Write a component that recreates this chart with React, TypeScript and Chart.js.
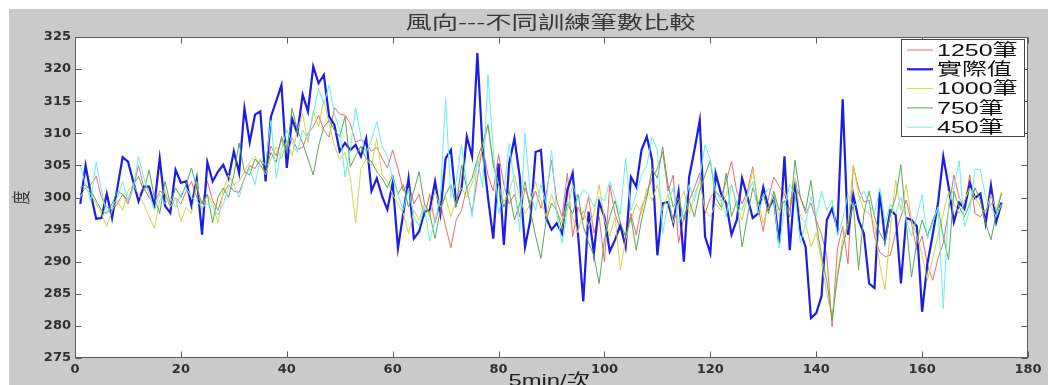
import React, { useEffect, useRef } from "react";
import { Chart, registerables } from "chart.js";

Chart.register(...registerables);

const TITLE = "風向---不同訓練筆數比較";
const X_LABEL = "5min/次";
const Y_LABEL = "度";
const X_MIN = 0;
const X_MAX = 180;
const X_STEP = 20;
const Y_MIN = 275;
const Y_MAX = 325;
const Y_STEP = 5;

const SERIES_NAMES = ["1250筆", "實際值", "1000筆", "750筆", "450筆"];
const SERIES_COLORS = ["#ee6b6b", "#1c1ce4", "#d4d44c", "#58a858", "#66f0f0"];
const SERIES_WIDTHS = [1, 2.2, 1, 1, 1];

const pred1250 = [
  300.5, 301.5, 302.0, 303.3, 300.0, 298.5, 298.0, 299.0, 300.5, 299.0,
  301.5, 305.0, 301.5, 300.0, 299.0, 301.0, 300.5, 298.5, 300.0, 299.0,
  301.0, 302.5, 300.0, 299.0, 302.5, 299.5, 298.0, 300.5, 302.0, 301.0,
  300.8, 303.0, 305.0, 304.5, 306.0, 304.0, 308.0, 306.5, 309.0, 307.0,
  309.3, 307.5, 307.8, 310.0, 311.0, 312.8, 310.5, 309.4, 314.0, 313.0,
  312.8, 311.5, 308.6, 309.0, 308.5, 307.2, 307.8, 306.1, 304.6, 307.4,
  304.5, 301.0, 302.5, 299.0, 300.5, 297.0, 300.5, 296.0, 299.0, 295.5,
  292.2, 296.5, 298.0, 301.5, 297.5, 303.0, 308.0, 303.5, 301.0, 306.7,
  302.0, 299.0, 300.5, 297.0, 301.5, 299.0, 301.0, 298.3, 300.5, 305.8,
  299.5, 297.0, 303.8, 293.9, 298.5, 296.5, 300.1, 294.5, 297.0, 290.0,
  302.0, 297.5, 295.0, 294.0, 297.5, 294.2, 298.5, 300.5, 303.0, 304.5,
  307.1, 301.0, 303.5, 292.9, 297.0, 299.5, 301.5, 303.8, 297.5, 300.0,
  301.0, 300.0, 302.5, 305.6, 300.9, 299.0, 301.0, 304.8, 298.5, 294.7,
  300.0, 303.2, 301.7, 300.5, 298.0, 302.0, 300.1, 297.5, 299.1, 296.5,
  294.2, 291.0, 279.9, 292.0, 295.5, 289.7, 304.8, 301.5, 299.3, 299.6,
  294.0, 291.5, 290.8, 291.0, 294.5, 297.0, 299.6, 296.0, 291.8, 294.0,
  289.5, 287.1, 290.5, 292.9, 298.0, 303.5, 300.0, 298.5, 303.5, 297.5,
  297.0, 298.0, 299.1, 298.0, 299.3,
];

const actual = [
  299.0, 305.0, 300.5, 296.7, 296.8, 300.6, 296.8, 301.5, 306.3, 305.6,
  302.5, 299.4, 301.7, 301.7, 298.9, 306.1, 298.7, 297.6, 304.3, 302.3,
  302.5, 298.7, 302.9, 294.2, 305.5, 302.5, 304.0, 305.1, 303.0, 307.2,
  303.8, 313.9, 308.6, 312.9, 313.4, 302.5, 312.6, 315.0, 317.5, 304.6,
  312.3, 310.0, 316.0, 313.4, 320.4, 317.8, 319.1, 312.6, 311.3, 307.2,
  308.5, 307.4, 308.2, 306.4, 309.2, 301.0, 303.0, 300.2, 298.1, 302.3,
  292.1, 297.5, 303.0, 293.6, 294.7, 297.8, 298.0, 302.5, 297.5, 306.1,
  307.4, 299.1, 301.4, 309.5, 306.4, 322.5, 307.4, 300.0, 293.6, 305.3,
  292.6, 305.3, 309.2, 303.2, 292.3, 296.5, 307.1, 307.4, 296.8, 295.0,
  296.0, 294.4, 301.2, 303.8, 294.4, 283.8, 297.8, 291.3, 299.3, 297.0,
  291.6, 293.4, 295.7, 292.3, 303.2, 301.7, 307.4, 309.5, 305.8, 291.0,
  299.1, 299.3, 296.0, 300.9, 290.0, 303.2, 307.4, 312.0, 293.9, 291.3,
  303.8, 300.6, 299.1, 294.2, 296.5, 303.0, 300.1, 296.8, 297.5, 301.6,
  298.3, 299.9, 292.9, 306.4, 291.8, 302.5, 294.7, 292.3, 281.2, 282.0,
  284.6, 296.5, 298.3, 295.2, 315.3, 294.2, 300.4, 296.5, 294.4, 286.6,
  285.9, 300.9, 293.4, 298.0, 297.3, 286.6, 296.8, 296.5, 295.5, 282.2,
  289.7, 294.2, 299.1, 306.4, 301.7, 296.2, 299.2, 298.2, 302.2, 299.9,
  300.6, 296.0, 301.9, 296.2, 299.2,
];

const pred1000 = [
  300.0, 301.5, 300.5, 299.0, 297.5, 295.5, 298.0, 299.5, 298.0, 301.0,
  302.0, 300.5, 299.0, 297.0, 295.2, 299.5, 301.0, 298.5, 300.0, 296.3,
  298.5, 297.5, 302.5, 298.0, 300.5, 299.0, 296.0, 301.0, 303.5, 302.0,
  302.5, 304.0, 305.5, 306.4, 305.0, 303.5, 306.0, 307.9, 306.0, 309.0,
  306.5, 310.5, 313.1, 308.5, 313.6, 311.0, 315.2, 311.5, 308.0, 305.9,
  307.0, 303.0, 296.0, 304.5, 306.0, 305.0, 309.2, 303.5, 302.5, 300.5,
  299.0, 297.5, 294.4, 298.0, 296.5, 299.0, 297.0, 301.0, 298.5, 300.1,
  297.0, 299.5, 301.5, 300.0, 302.2, 305.0, 307.5, 311.3, 305.5, 302.0,
  299.3, 301.0, 303.5, 300.0, 297.5, 299.0, 302.5, 299.5, 297.0, 300.5,
  298.0, 296.0, 299.5, 297.0, 294.5, 298.0, 295.5, 297.5, 302.0, 296.5,
  294.0, 297.0, 288.7, 293.4, 296.5, 299.0, 297.5, 301.5, 299.5, 302.0,
  298.0, 300.5, 296.0, 299.0, 301.0, 297.5, 300.5, 302.5, 298.0, 297.0,
  299.0, 298.0, 300.5, 302.0, 298.5, 296.5, 300.0, 304.3, 299.5, 296.0,
  298.5, 300.5, 297.0, 301.0, 299.0, 303.0, 297.0, 296.0, 292.3, 294.5,
  290.0, 285.0, 281.5, 288.0, 293.5, 296.0, 305.1, 300.5, 298.0, 297.5,
  296.0, 289.5, 285.6, 295.0, 302.7, 298.0, 302.0, 296.5, 294.0, 291.0,
  287.1, 290.5, 294.0, 297.5, 301.0, 299.0, 297.5, 299.5, 301.5, 300.0,
  298.5, 297.5, 300.5, 298.0, 300.9,
];

const pred750 = [
  301.5, 302.0, 301.0, 299.5, 298.0, 297.5, 299.0, 301.0, 300.5, 299.5,
  302.0, 303.3, 301.0, 304.3, 300.0, 297.5, 302.5, 299.0, 301.5, 300.0,
  302.0, 304.6, 301.5, 299.0, 300.5, 296.1, 300.0, 301.5, 300.0, 303.5,
  308.5, 304.0, 303.5, 306.0, 305.0, 304.0, 307.0, 305.5, 309.5, 307.0,
  313.9, 310.5, 308.5, 306.0, 303.5, 308.0, 311.0, 312.0, 310.5, 309.5,
  312.6, 304.8, 306.5, 308.0, 306.0, 305.6, 304.0, 303.0, 301.5, 303.5,
  300.5, 302.0, 298.5, 301.0, 304.0, 299.0, 297.5, 293.6, 298.0, 300.5,
  302.0, 298.5, 305.0, 301.5, 303.0, 306.0, 308.5, 311.4, 305.0, 302.0,
  298.5, 301.0, 296.5, 299.0, 302.5, 298.0, 294.0, 290.5, 296.5, 299.1,
  298.0, 295.0, 299.0, 297.5, 300.5, 295.5, 293.0, 291.0, 286.6, 293.5,
  297.0, 299.5, 296.0, 294.0, 297.0, 291.8, 296.5, 300.0, 304.5, 303.0,
  307.9, 302.0, 298.5, 300.0, 296.5, 299.5, 297.0, 301.0, 303.5, 305.8,
  300.0, 298.5, 303.8, 297.0, 299.5, 292.3, 297.0, 301.5, 299.0, 300.5,
  297.5, 301.0, 298.0, 299.5, 297.0, 305.8, 300.0, 298.0, 302.7, 296.0,
  291.0, 287.0, 280.9, 287.5, 292.5, 295.5, 299.0, 288.7, 297.5, 301.0,
  297.0, 294.5, 293.0, 297.5, 300.0, 305.1, 296.0, 287.6, 293.0, 296.5,
  294.0, 296.5, 298.5, 294.0, 290.3, 301.0, 298.5, 297.0, 299.0, 301.5,
  299.5, 296.0, 293.4, 297.5, 300.6,
];

const pred450 = [
  305.0, 302.0, 299.5, 305.6, 301.0, 297.5, 298.5, 300.0, 302.5, 299.5,
  301.5, 306.4, 303.0, 300.5, 298.0, 300.5, 299.0, 300.0, 298.5, 300.5,
  301.5, 300.0, 299.5, 298.5, 299.0, 298.5, 297.3, 299.0, 301.5, 302.0,
  300.0, 303.0, 304.5, 302.0, 306.0, 305.0, 312.0, 303.0, 307.5, 310.5,
  308.5, 307.0, 310.5, 309.0, 313.0, 317.0, 314.5, 317.5, 313.0, 310.5,
  303.2, 307.5, 314.0, 309.5, 307.0, 309.0, 311.8, 308.0, 306.4, 303.0,
  300.5, 298.0, 301.5, 297.0, 295.5, 298.5, 293.2, 296.5, 300.0, 315.4,
  300.0, 302.5, 308.2, 302.0, 297.0, 306.0, 301.5, 319.1, 307.5, 297.5,
  301.0, 308.4, 302.0, 294.7, 310.0, 300.5, 298.0, 302.0, 299.0, 307.4,
  297.5, 292.9, 298.0, 302.0, 299.5, 301.2, 300.5, 298.5, 300.1, 299.5,
  302.5, 300.0, 297.3, 306.1, 298.0, 300.5, 303.5, 305.0, 309.4, 307.4,
  294.4, 299.0, 301.5, 296.0, 298.1, 302.0, 299.5, 303.0, 308.2, 305.8,
  301.0, 299.5, 297.0, 302.0, 299.0, 298.0, 300.5, 302.5, 297.5, 300.0,
  301.5, 299.5, 292.1, 298.5, 302.0, 300.5, 292.9, 296.0, 300.1, 297.0,
  301.0, 298.0, 299.6, 294.0, 296.5, 300.5, 298.5, 299.5, 301.0, 299.0,
  297.5, 301.5, 296.0, 299.0, 297.5, 300.0, 296.5, 294.0, 297.0, 300.4,
  293.5, 296.0, 298.5, 282.7, 299.0, 301.5, 305.7, 295.4, 298.0, 304.4,
  304.4, 300.0, 298.5, 297.0, 299.0,
];

const SERIES = [pred1250, actual, pred1000, pred750, pred450];

const CANVAS_W = 1039;
const CANVAS_H = 376;

const matlabPlugin = {
  id: "matlabLook",
  beforeDraw(chart: any) {
    const { ctx, chartArea: a } = chart;
    ctx.save();
    ctx.fillStyle = "#cacaca";
    ctx.fillRect(0, 0, chart.width, chart.height);
    ctx.fillStyle = "#ffffff";
    ctx.fillRect(a.left, a.top, a.right - a.left, a.bottom - a.top);
    ctx.restore();
  },
  afterDatasetsDraw(chart: any) {
    const { ctx, chartArea: a, scales } = chart;
    ctx.save();
    ctx.strokeStyle = "#5c5c5c";
    ctx.lineWidth = 1;
    const L = Math.round(a.left) + 0.5;
    const R = Math.round(a.right) - 0.5;
    const T = Math.round(a.top) + 0.5;
    const B = Math.round(a.bottom) - 0.5;
    ctx.strokeRect(L, T, R - L, B - T);
    const tl = 6;
    ctx.beginPath();
    scales.x.ticks.forEach((t: any) => {
      const px = Math.round(scales.x.getPixelForValue(t.value)) + 0.5;
      ctx.moveTo(px, B);
      ctx.lineTo(px, B - tl);
      ctx.moveTo(px, T);
      ctx.lineTo(px, T + tl);
    });
    scales.y.ticks.forEach((t: any) => {
      const py = Math.round(scales.y.getPixelForValue(t.value)) + 0.5;
      ctx.moveTo(L, py);
      ctx.lineTo(L + tl, py);
      ctx.moveTo(R, py);
      ctx.lineTo(R - tl, py);
    });
    ctx.stroke();

    // legend
    const lx = 892;
    const ly = 30;
    const lw = 124;
    const lh = 98;
    ctx.fillStyle = "#ffffff";
    ctx.fillRect(lx, ly, lw, lh);
    ctx.strokeStyle = "#444444";
    ctx.strokeRect(lx + 0.5, ly + 0.5, lw - 1, lh - 1);
    SERIES_NAMES.forEach((name, i) => {
      const cy = ly + 11 + i * 19.3;
      ctx.strokeStyle = SERIES_COLORS[i];
      ctx.lineWidth = SERIES_WIDTHS[i];
      ctx.beginPath();
      ctx.moveTo(lx + 6, cy);
      ctx.lineTo(lx + 32, cy);
      ctx.stroke();
      ctx.save();
      ctx.translate(lx + 36, cy);
      ctx.scale(1.47, 1);
      ctx.fillStyle = "#111111";
      ctx.font = '17px "Liberation Sans", "Noto Sans CJK TC"';
      ctx.textAlign = "left";
      ctx.textBaseline = "middle";
      ctx.fillText(name, 0, 1);
      ctx.restore();
    });
    ctx.restore();
  },
  afterDraw(chart: any) {
    const { ctx, chartArea: a } = chart;
    const cx = (a.left + a.right) / 2;
    ctx.save();
    ctx.fillStyle = "#383838";
    ctx.textAlign = "center";
    // title
    ctx.save();
    ctx.translate(cx - 1, 13);
    ctx.scale(1.46, 1);
    ctx.font = '18px "Noto Sans CJK TC"';
    ctx.textBaseline = "middle";
    ctx.fillText(TITLE, 0, 0);
    ctx.restore();
    // x label
    ctx.save();
    ctx.translate(cx - 2, 377);
    ctx.scale(1.4, 1);
    ctx.fillStyle = "#1e1e1e";
    ctx.font = '17px "Liberation Sans", "Noto Sans CJK TC"';
    ctx.textBaseline = "alphabetic";
    ctx.fillText(X_LABEL, 0, 0);
    ctx.restore();
    // y label
    ctx.save();
    ctx.translate(12, (a.top + a.bottom) / 2);
    ctx.rotate(-Math.PI / 2);
    ctx.scale(1, 1.3);
    ctx.font = '14px "Noto Sans CJK TC"';
    ctx.textBaseline = "middle";
    ctx.fillText(Y_LABEL, 0, 0);
    ctx.restore();
    ctx.restore();
  },
};

export default function App() {
  const canvasRef = useRef<HTMLCanvasElement | null>(null);

  useEffect(() => {
    const canvas = canvasRef.current;
    if (!canvas) return;
    const tickFont = { family: '"DejaVu Sans"', size: 13, weight: "bold" as const };
    const chart = new Chart(canvas, {
      type: "line",
      data: {
        datasets: SERIES.map((vals, si) => ({
          label: SERIES_NAMES[si],
          data: vals.map((v, k) => ({ x: k + 1, y: v })),
          borderColor: SERIES_COLORS[si],
          backgroundColor: SERIES_COLORS[si],
          borderWidth: SERIES_WIDTHS[si],
          pointRadius: 0,
          tension: 0,
          fill: false,
          order: SERIES.length - si,
        })),
      },
      options: {
        animation: false,
        responsive: false,
        devicePixelRatio: 1,
        events: [],
        layout: { padding: { top: 28, right: 20, left: 0, bottom: 0 } },
        plugins: {
          legend: { display: false },
          title: { display: false },
          tooltip: { enabled: false },
        },
        scales: {
          x: {
            type: "linear",
            min: X_MIN,
            max: X_MAX,
            grid: { display: false, drawTicks: false },
            border: { display: false },
            ticks: { stepSize: X_STEP, padding: 4, color: "#303030", font: tickFont, maxRotation: 0 },
            afterFit: (s: any) => {
              s.height = 27;
            },
          },
          y: {
            type: "linear",
            min: Y_MIN,
            max: Y_MAX,
            grid: { display: false, drawTicks: false },
            border: { display: false },
            ticks: { stepSize: Y_STEP, padding: 4, color: "#303030", font: tickFont },
            afterFit: (s: any) => {
              s.width = 66;
            },
          },
        },
      },
      plugins: [matlabPlugin],
    });
    return () => chart.destroy();
  }, []);

  return (
    <div style={{ position: "fixed", left: 9, top: 9, width: CANVAS_W, height: CANVAS_H }}>
      <canvas ref={canvasRef} width={CANVAS_W} height={CANVAS_H} style={{ display: "block" }} />
    </div>
  );
}
